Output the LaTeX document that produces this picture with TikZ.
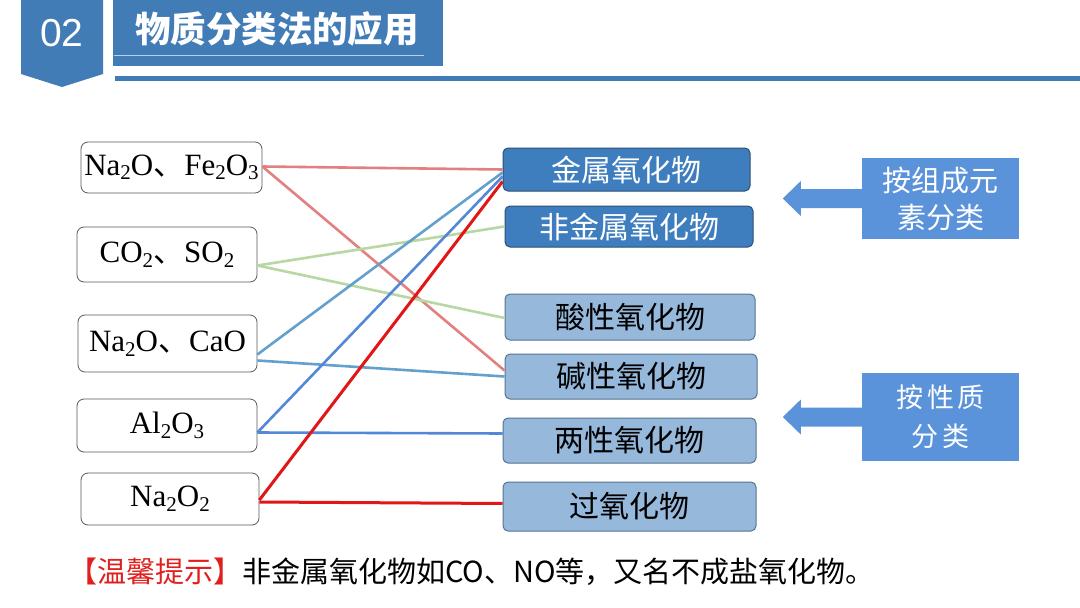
\documentclass[tikz,border=0pt]{standalone}
\usepackage{fontspec}
\setmainfont{Liberation Serif}
\setsansfont{Liberation Sans}
\newfontfamily\cjk{Noto Sans CJK SC}

\definecolor{headblue}{RGB}{66,124,182}
\definecolor{kinddark}{RGB}{62,126,190}
\definecolor{kindlight}{RGB}{149,184,219}
\definecolor{kindline}{RGB}{45,80,115}
\definecolor{basisblue}{RGB}{91,147,219}
\definecolor{pinkline}{RGB}{226,128,128}
\definecolor{greenline}{RGB}{183,216,160}
\definecolor{tealline}{RGB}{100,160,205}
\definecolor{blueline}{RGB}{85,135,215}
\definecolor{redline}{RGB}{225,22,22}
\definecolor{tipred}{RGB}{224,32,31}

\newcommand{\low}[1]{\raisebox{-0.32ex}{\fontsize{21}{21}\selectfont #1}}

\begin{document}
\begin{tikzpicture}[x=1pt, y=-1pt,
  formula/.style = {draw=black!65, line width=0.8pt, rounded corners=7pt, fill=white,
    inner sep=0pt, font=\fontsize{31}{36}\selectfont},
  darkkind/.style = {draw=kindline, line width=1pt, rounded corners=5pt, fill=kinddark,
    text=white, inner sep=0pt, font=\cjk\fontsize{30}{34}\selectfont},
  lightkind/.style = {draw=kindline!80, line width=1pt, rounded corners=5pt, fill=kindlight,
    text=black, inner sep=0pt, font=\cjk\fontsize{30}{34}\selectfont},
  basis/.style = {fill=basisblue, text=white, inner sep=0pt, align=center,
    minimum width=157, font=\cjk},
  link/.style = {line width=2.6pt}]

  \useasboundingbox (0,0) rectangle (1080,608);

  % header
  \fill[headblue] (21,0) -- (103,0) -- (103,74) -- (62,87) -- (21,74) -- cycle;
  \node[text=white, font=\sffamily\fontsize{39}{39}\selectfont] (num) at (62,33) {02};
  \node[fill=headblue, minimum width=330, minimum height=66, inner sep=0pt] (title) at (278,33) {};
  \node[text=white, font=\cjk\bfseries\fontsize{35.5}{36}\selectfont] (titletext) at (277,29) {物质分类法的应用};
  \draw[white!65!headblue, line width=1pt] ([xshift=1pt, yshift=11pt]title.south west) -- ([xshift=-19pt, yshift=11pt]title.south east);
  \fill[headblue] (115,76) rectangle (1080,81);

  % formulas
  \foreach \name/\x/\y/\w/\h/\txt in {
      fe/171.5/167.5/181/51/{Na\low{2}O{\cjk 、}Fe\low{2}O\low{3}},
      co/167/254.5/180/55/{CO\low{2}{\cjk 、}SO\low{2}},
      ca/167.5/343.5/179/57/{Na\low{2}O{\cjk 、}CaO},
      al/167/425.5/180/53/{Al\low{2}O\low{3}},
      pe/170/499/178/52/{Na\low{2}O\low{2}}}
    \node[formula, minimum width=\w, minimum height=\h] (\name) at (\x,\y) {\txt};

  % kinds of oxides
  \foreach \name/\st/\x/\y/\w/\h/\txt in {
      metal/darkkind/626.5/169.5/247/43/金属氧化物,
      nonmetal/darkkind/629/226.5/248/41/非金属氧化物,
      acid/lightkind/630/317/250/46/酸性氧化物,
      base/lightkind/631/376.5/252/45/碱性氧化物,
      amph/lightkind/629.5/440.5/253/45/两性氧化物,
      perox/lightkind/629.5/506.5/253/49/过氧化物}
    \node[\st, minimum width=\w, minimum height=\h] (\name) at (\x,\y) {\txt};

  % ways of sorting
  \node[basis, minimum height=81, font=\cjk\fontsize{29}{37}\selectfont] (bycomp) at (940.5,198.5) {按组成元\\素分类};
  \node[basis, minimum height=88, font=\cjk\fontsize{27}{39}\selectfont] (byprop) at (940.5,417) {按\hspace{4pt}性\hspace{4pt}质\\分\hspace{4pt}类};

  \foreach \b in {bycomp, byprop}
    \fill[basisblue] ([yshift=9.5pt]\b.west) -- ++(-61,0) -- ++(0,-8) -- ++(-18,17.5)
      -- ++(18,17.5) -- ++(0,-8) -- ([yshift=-9.5pt]\b.west) -- cycle;

  % connectors
  \draw[link, pinkline] ([yshift=1pt]fe.east) -- ([yshift=0pt]metal.west);
  \draw[link, pinkline] ([yshift=1pt]fe.east) -- ([yshift=6pt]base.west);
  \draw[link, greenline] ([yshift=-11pt]co.east) -- ([yshift=0pt]nonmetal.west);
  \draw[link, greenline] ([yshift=-11pt]co.east) -- ([yshift=-1pt]acid.west);
  \draw[link, tealline] ([yshift=-11pt]ca.east) -- ([yshift=-3pt]metal.west);
  \draw[link, tealline] ([yshift=-17pt]ca.east) -- ([yshift=0pt]base.west);
  \draw[link, blueline] ([yshift=-7pt]al.east) -- ([yshift=-7pt]metal.west);
  \draw[link, blueline] ([yshift=-7pt]al.east) -- ([yshift=7pt]amph.west);
  \draw[link, redline, line width=3pt] ([yshift=-1pt]pe.east) -- ([yshift=-12pt]metal.west);
  \draw[link, redline, line width=3pt] ([yshift=-3pt]pe.east) -- ([yshift=3pt]perox.west);

  % hint
  \node[anchor=west, inner sep=0pt, font=\cjk\fontsize{29}{34}\selectfont] (hint) at (68,572)
    {\textcolor{tipred}{【温馨提示】}非金属氧化物如CO、NO等，又名不成盐氧化物。};

\end{tikzpicture}
\end{document}
